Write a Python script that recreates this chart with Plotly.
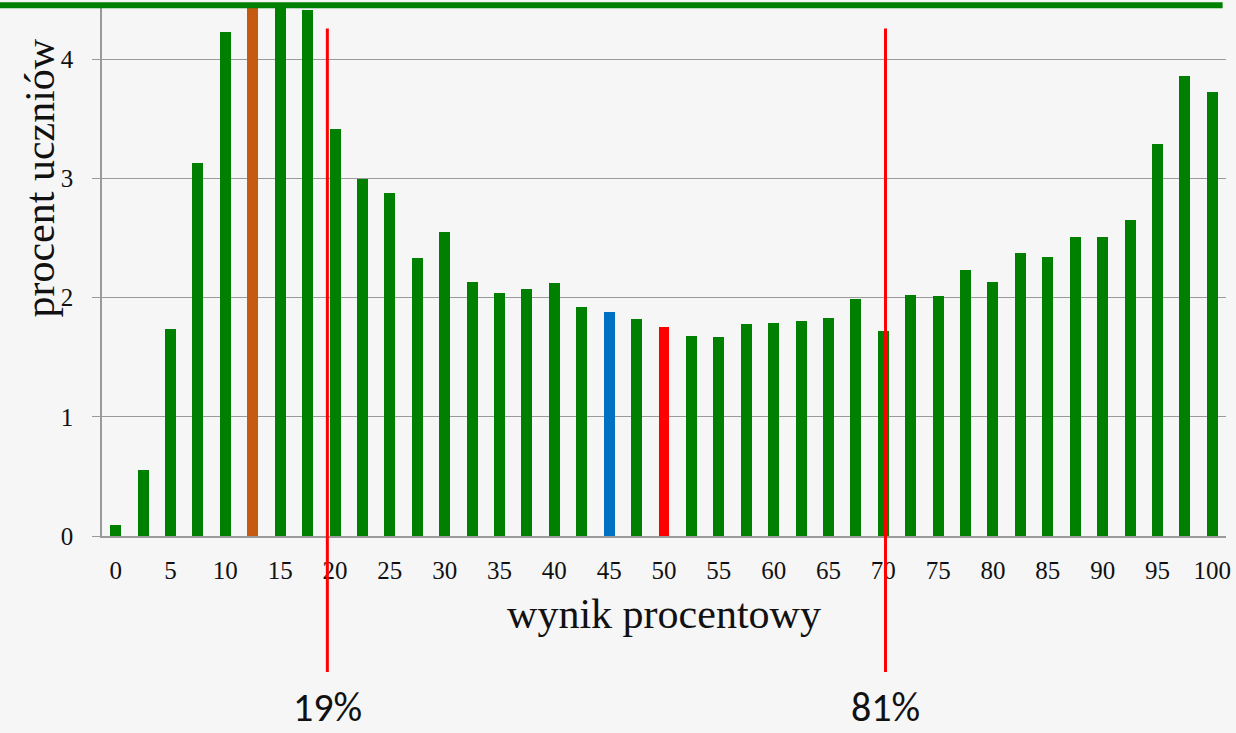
import plotly.graph_objects as go

# wynik procentowy (co 2,5 pkt) i procent uczniów
scores = [i * 2.5 for i in range(41)]
percent = [0.09, 0.55, 1.74, 3.13, 4.23, 4.80, 4.65, 4.41, 3.41, 2.99,
           2.88, 2.33, 2.55, 2.13, 2.04, 2.07, 2.12, 1.92, 1.88, 1.82,
           1.75, 1.68, 1.67, 1.78, 1.79, 1.80, 1.83, 1.99, 1.72, 2.02,
           2.01, 2.23, 2.13, 2.37, 2.34, 2.51, 2.51, 2.65, 3.29, 3.86,
           3.72]
highlight = {12.5: '#C55A11', 45: '#0070C0', 50: '#FF0000'}
bar_colors = [highlight.get(s, '#008000') for s in scores]

# progi zaznaczone czerwonymi liniami
cut_x = [19.3, 70.2]
cut_labels = ['19%', '81%']

tick_vals = list(range(0, 101, 5))

fig = go.Figure()
fig.add_trace(go.Bar(
    x=scores, y=percent,
    width=1.0,
    marker=dict(color=bar_colors, line=dict(width=0)),
))

serif = 'Liberation Serif, Times New Roman, serif'

fig.update_layout(
    width=1236, height=733,
    margin=dict(l=102, r=10, t=3, b=197),
    paper_bgcolor='#f6f6f6',
    plot_bgcolor='rgba(0,0,0,0)',
    showlegend=False,
    font=dict(family=serif, color='#111111'),
    bargap=0,
)

fig.update_xaxes(
    range=[-1.25, 101.25],
    tickvals=tick_vals,
    ticktext=[str(v) for v in tick_vals],
    tickfont=dict(size=25, family=serif),
    ticks='', showgrid=False,
    showline=True, linecolor='#9a9a9a', linewidth=1.5,
    ticklabelstandoff=11,
    title=dict(text='wynik procentowy', font=dict(size=42, family=serif), standoff=16),
    zeroline=False,
)
fig.update_yaxes(
    range=[0, 4.47],
    tickvals=[0, 1, 2, 3, 4],
    tickfont=dict(size=25, family=serif),
    ticks='outside', ticklen=8, tickcolor='#9a9a9a',
    showgrid=True, gridcolor='#9a9a9a', gridwidth=1,
    showline=True, linecolor='#9a9a9a', linewidth=1.5,
    ticklabelstandoff=14,
    zeroline=False,
)

# tytuł osi Y (przesunięty w górę jak w oryginale)
fig.add_annotation(x=-0.055, xref='paper', y=0.671, yref='paper',
                   text='procent uczniów', textangle=-90, showarrow=False,
                   xanchor='center', yanchor='middle',
                   font=dict(size=42, family=serif, color='#111111'))

# zielona linia u góry
fig.add_shape(type='line', xref='paper', yref='paper',
              x0=-0.091, x1=0.997, y0=0.996, y1=0.996,
              line=dict(color='#008000', width=6))

for cx, lab in zip(cut_x, cut_labels):
    fig.add_shape(type='line', xref='x', yref='paper',
                  x0=cx, x1=cx, y0=0.952, y1=-0.255,
                  line=dict(color='#FF0000', width=3), layer='above')
    fig.add_annotation(x=cx, xref='x', y=-0.322, yref='paper',
                       text=lab, showarrow=False, yanchor='middle',
                       font=dict(size=40, family='Carlito, Lato, Open Sans, sans-serif', color='#111111'))

fig.write_html('out.html', config={'displayModeBar': False},
               post_script="document.body.style.margin='0';")
